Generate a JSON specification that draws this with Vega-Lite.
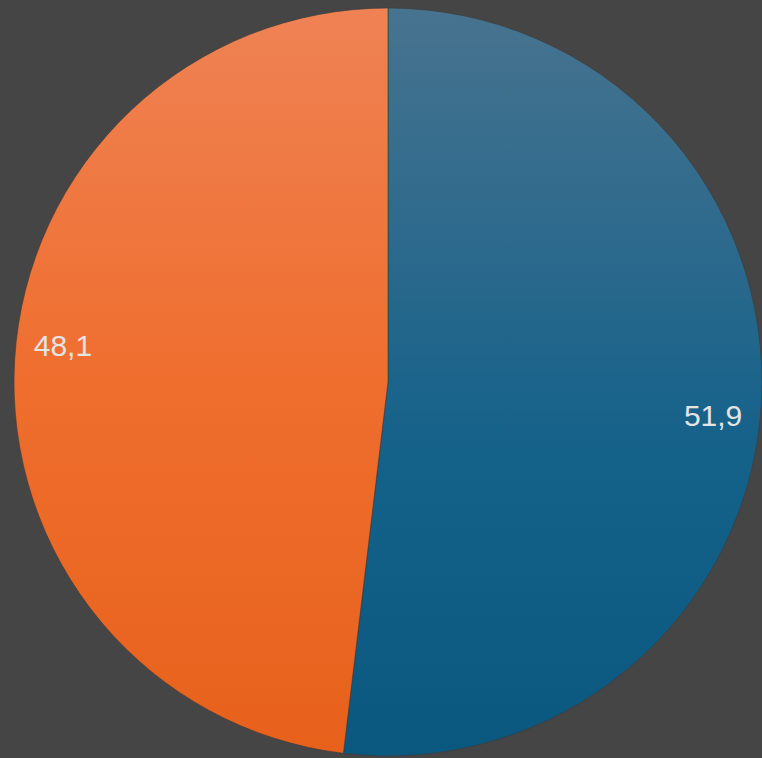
{
  "$schema": "https://vega.github.io/schema/vega-lite/v6.json",
  "width": 762,
  "height": 758,
  "autosize": {"type": "fit", "contains": "padding"},
  "padding": {"left": 14, "top": 6, "right": 0, "bottom": 0},
  "background": "#454545",
  "config": {
    "view": {"stroke": null},
    "locale": {"number": {"decimal": ",", "thousands": ".", "grouping": [3], "currency": ["", " €"]}}
  },
  "data": {
    "values": [
      {"group": "A", "order": 1, "value": 51.9},
      {"group": "B", "order": 2, "value": 48.1}
    ]
  },
  "encoding": {
    "theta": {"field": "value", "type": "quantitative", "stack": true},
    "order": {"field": "order", "type": "quantitative"}
  },
  "layer": [
    {
      "mark": {"type": "arc", "stroke": "#3a3a3a", "strokeWidth": 0.6},
      "encoding": {
        "fill": {
          "condition": {
            "test": "datum.group === 'A'",
            "value": {"gradient": "linear", "x1": 0, "y1": 0, "x2": 0, "y2": 1,
              "stops": [{"offset": 0, "color": "#47738f"}, {"offset": 0.6, "color": "#14618a"}, {"offset": 1, "color": "#0a5880"}]}
          },
          "value": {"gradient": "linear", "x1": 0, "y1": 0, "x2": 0, "y2": 1,
            "stops": [{"offset": 0, "color": "#ef8254"}, {"offset": 0.5, "color": "#ef6e2e"}, {"offset": 1, "color": "#e7611b"}]}
        }
      }
    },
    {
      "mark": {"type": "text", "radius": 327, "thetaOffset": 0.049, "fontSize": 30, "font": "Liberation Sans", "color": "#e4e4e4"},
      "encoding": {
        "text": {"field": "value", "type": "quantitative", "format": ".1f"}
      }
    }
  ]
}
